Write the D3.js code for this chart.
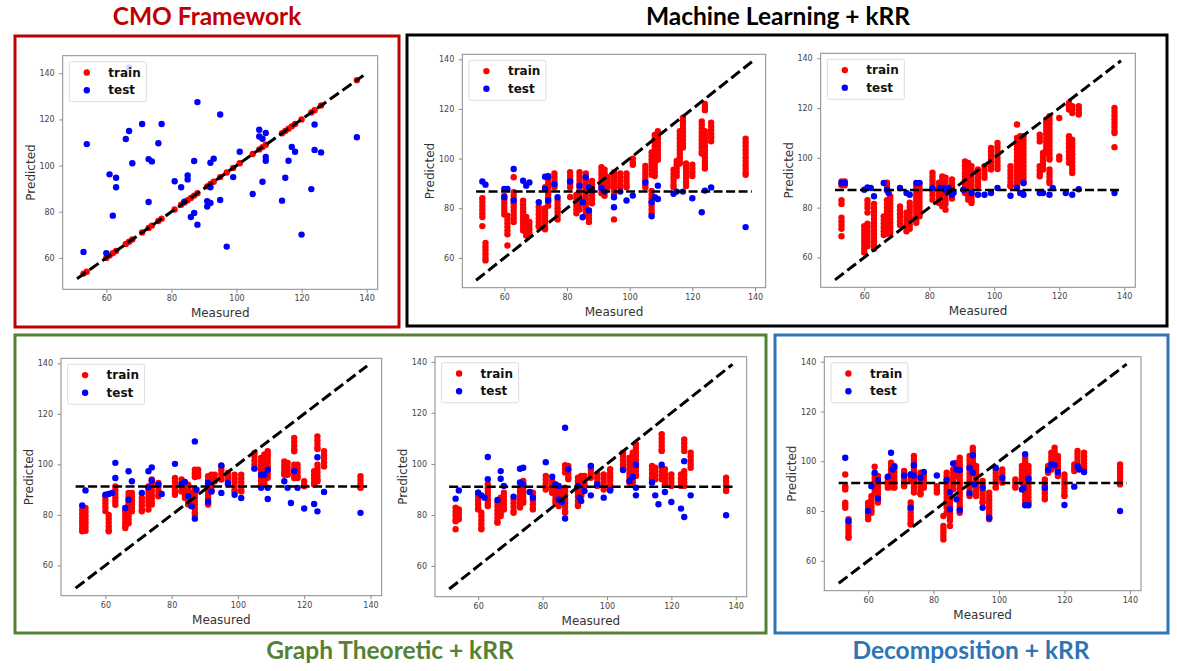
<!DOCTYPE html>
<html>
<head>
<meta charset="utf-8">
<script src="https://cdn.jsdelivr.net/npm/d3@7"></script>
<style>
  body { margin: 0; background: #fff; }
  svg { display: block; }
</style>
</head>
<body>
<svg></svg>
<script>
// ---------- data ----------
// train stacks: [measured, predicted1, predicted2, ...]
// test points: [measured, predicted]
const xTicks = [60, 80, 100, 120, 140];
const yTicks = [60, 80, 100, 120, 140];
const diagonal = [51, 139];

const cmoTrain = [
  [53, 53.2], [54, 54], [60, 60], [61, 61], [62, 62], [63, 63], [66, 66], [67, 67], [68, 68],
  [71, 71], [73, 73], [74, 74], [76, 76], [77, 77], [81, 81], [83, 83], [84, 84], [85, 85],
  [86, 86], [87, 87], [88, 88], [91, 91], [92, 92], [93, 93], [95, 95], [97, 97], [99, 99],
  [101, 101], [105, 105], [107, 107], [108, 108], [109, 109], [114, 114], [115, 115],
  [116, 116], [117, 117], [118, 118], [120, 120], [123, 123], [124, 124], [126, 126], [137, 137]
];
const cmoTest = [
  [53, 62.6], [54, 109.3], [60, 62], [61, 96.2], [62, 78.3], [63, 94.7], [63, 90.6], [66, 111.5],
  [67, 115], [67, 142.5], [68, 101], [71, 118], [73, 84.2], [73, 102.8], [74, 101.8], [76, 109.7],
  [77, 118], [81, 93.2], [83, 90.6], [84, 84.4], [85, 95.7], [85, 94], [86, 77.7], [87, 79.5],
  [87, 102], [88, 74.4], [88, 127.5], [91, 84.6], [91, 82.3], [92, 83.8], [92, 90.6], [92, 101.2],
  [93, 103], [95, 122.1], [95, 85.1], [97, 64.9], [99, 95], [101, 106], [105, 87.7], [107, 115.5],
  [107, 112.6], [108, 111.6], [108, 93], [109, 114.1], [109, 103.7], [109, 102.1], [114, 84.8],
  [115, 94.7], [116, 102.1], [117, 108.1], [118, 106], [120, 70.1], [123, 89.8], [124, 117.8],
  [124, 106.8], [126, 105.7], [137, 112.3]
];

const ml1Train = [
  [53, 84, 82.5, 81, 79.5, 78, 76.5, 72.8],
  [54, 66, 64.5, 63, 61.5, 60, 59],
  [60, 85, 83.5, 82, 80.5, 79, 77.5],
  [61, 77, 75.5, 74, 72.5, 71, 69.5, 65],
  [63, 92.5, 86.5, 85, 83.5, 82, 80.5, 79, 77.5, 76, 74.5],
  [66, 83, 81.5, 80, 78.5, 77, 75.5, 74, 72.5, 71],
  [67, 76.5, 75, 73.5, 72, 70.5, 69],
  [68, 74.5, 73, 71.5, 70],
  [71, 80.5, 79, 77.5, 76, 74.5, 73, 72.5],
  [73, 88.5, 80, 78.5, 77, 75.5, 74, 72.5, 71.5],
  [74, 93, 91.5, 90, 88.5, 87, 85.5, 84, 82.5, 81],
  [76, 94, 92.5, 91, 89.5, 88.5],
  [77, 83, 81.5, 80, 78.5, 77, 75.5],
  [81, 94.5, 93, 91.5, 90, 88.5, 84.5],
  [83, 85.5, 84, 82.5, 81, 79.5, 78],
  [84, 94.5, 93, 91.5, 90, 88.5, 87, 85.5, 84, 82.5, 81, 79.5],
  [86, 94, 92.5, 91, 89.5, 88, 86.5, 85, 83.5, 82, 80.5, 79, 77.5],
  [87, 79, 77.5, 76, 74.5],
  [88, 91, 89.5, 88, 86.5, 85, 83.5, 82],
  [91, 96.5, 95, 93.5, 92, 90.5, 89, 87.5, 86],
  [92, 95.5, 94, 92.5, 91, 89.5, 88, 86.5, 85],
  [93, 92.5, 91, 89.5, 88.5],
  [95, 94.5, 93, 91.5, 90, 88.5, 87, 85.5, 75.5],
  [97, 94, 92.5, 91, 89.5, 88.5],
  [99, 94, 92.5, 91, 89.5, 88.5],
  [101, 100, 98.5, 97.5],
  [105, 97, 95.5, 94, 92.5, 91, 89.5, 88.5],
  [107, 102.5, 101, 99.5, 98, 96.5, 95, 93.5, 87, 85.5, 84, 82.5, 81, 79.5, 78],
  [108, 109.5, 108, 106.5, 105, 103.5, 102, 100.5, 99, 97.5, 96, 94.5, 93],
  [109, 111, 109.5, 108, 106.5, 105, 103.5, 102, 100.5, 99.5],
  [114, 95.5, 94, 92.5, 91, 89.5, 88.5],
  [115, 99, 97.5, 96, 94.5, 93],
  [116, 111, 109.5, 108, 106.5, 105, 103.5, 102, 100.5, 99, 98],
  [117, 116.5, 115, 113.5, 112, 110.5, 109, 107.5, 106, 104.5],
  [118, 98, 96.5, 95, 93.5, 92, 90.5, 89],
  [120, 97.5, 96, 94.5, 93],
  [123, 115, 113.5, 112, 110.5, 109, 107.5, 106, 104.5, 103, 102],
  [124, 122, 120.5, 119.5, 111, 109.5, 108, 106.5, 105, 103.5, 102, 100.5, 99, 97.5, 96],
  [126, 114.5, 113, 111.5, 110, 108.5, 107],
  [137, 108, 106.5, 105, 103.5, 102, 100.5, 99, 97.5, 96, 94.5, 93.5]
];
const ml1Test = [
  [53, 90.8], [54, 89.5], [60, 87.8], [61, 87.8], [60, 84.4], [63, 95.8], [63, 83.1], [66, 91.1],
  [67, 89.1], [68, 90.4], [71, 82.4], [73, 92.7], [74, 92.7], [74, 83.1], [73, 87.8], [76, 89.8],
  [77, 84.4], [81, 90.8], [84, 89.1], [85, 82.4], [85, 76.4], [86, 92.5], [87, 79.1], [87, 88.4],
  [88, 87.1], [91, 88.2], [92, 86.7], [95, 84.4], [95, 80.4], [97, 86.7], [99, 83.1], [101, 85.1],
  [105, 90.4], [107, 82.4], [107, 76.8], [108, 84.4], [109, 89.1], [109, 83.7], [114, 85.8],
  [115, 86.7], [117, 86.7], [120, 84], [123, 78.4], [124, 87.1], [126, 88.4], [137, 72.4]
];

const ml2Train = [
  [53, 90.5, 89, 83, 81.5, 76, 74.5, 73, 71.5, 68.5],
  [54, 90.5, 89],
  [60, 72.5, 71, 69.5, 68, 66.5, 65, 63.5, 62],
  [61, 83, 81.5, 80, 78, 73.5, 72, 70.5, 69, 67.5, 66, 64.5],
  [63, 81.5, 80, 78.5, 77, 75.5, 74, 72.5, 71, 69.5, 68, 66.5, 65, 63.5],
  [66, 76.5, 75, 73.5, 72, 70.5, 69],
  [67, 90, 88.5, 87, 83, 81.5, 80, 78.5, 77, 75.5, 74, 72.5, 71, 69.5],
  [68, 84.5, 83, 81.5, 80, 78.5, 77, 75.5, 74, 72.5, 71, 69.8],
  [71, 80.5, 79, 77.5, 76, 74.5, 73],
  [73, 78, 76.5, 75, 73.5, 72, 70.5],
  [74, 82, 80.5, 79, 77.5, 76, 74.5, 73, 71.5],
  [76, 88.5, 87, 85.5, 84, 82.5, 81, 79.5, 78, 76.5, 75, 73.9],
  [77, 89.5, 88, 86.5, 85, 83.5, 82, 80.5, 79, 77.5, 76.5],
  [81, 94, 92.5, 91, 89.5, 88, 86.5, 85, 83.2],
  [83, 90, 88.5, 87, 85.5, 84, 82.5, 81.9],
  [84, 92.5, 91, 89.5, 88, 86.5, 85, 83.5, 82, 80.6],
  [85, 92, 90.5, 89, 87.5, 86, 84.5, 83, 81.5, 79.2],
  [87, 91.3, 89.8, 88.3, 86.8, 85.3, 83.7],
  [91, 98.6, 97, 95.5, 94, 92.5, 91, 89.5, 88, 86.5, 85.9],
  [92, 98, 96.5, 95, 93.5, 92, 90.5, 89, 87.5, 86, 84.5, 83.2],
  [93, 96.6, 95, 93.5, 92, 90.5, 89, 87.5, 86, 84.5, 83, 81.9],
  [95, 95.3, 93.8, 92.3, 90.8, 89.3, 88.6],
  [97, 96.6, 95, 93.5, 92],
  [99, 104, 102.5, 101, 99.5, 98, 96.5, 95.3],
  [101, 106, 104.5, 103, 101.5, 100, 98.5, 97, 95.5],
  [105, 96.6, 95, 93.5, 92, 90.5, 89, 88.6],
  [107, 113.4, 108, 106.5, 105, 103.5, 102, 100.5, 99, 97.5, 96, 94.5, 93, 91.5, 90, 88.6],
  [108, 108.7, 107.2, 105.7, 104.2, 102.7, 101.2, 99.7, 98.2, 96.7, 95.2, 93.7, 92.2, 91.3],
  [109, 108.7, 107.2, 105.7, 104.2, 102.7, 101.2, 99.7, 98.2, 96.7, 95.2, 93.7, 92.2, 90.7, 89.9],
  [114, 109.3, 108, 106.6, 96.6, 95, 93.5, 92.6],
  [115, 102, 100.5, 99, 97.5, 96, 95.3],
  [116, 115.4, 114, 112.5, 111, 109.5, 108, 106.5, 105, 103.5, 102],
  [117, 116.7, 115.2, 113.7, 112.2, 110.7, 109.2, 107.7, 106.2, 104.7, 103.2, 101.7, 100.2, 99.3, 95.3, 93.8, 92.3, 90.8, 89.9],
  [120, 116, 100.6, 99.3],
  [123, 122.1, 120.7, 119.4, 108.7, 107.2, 105.7, 104.2, 102.7, 101.2, 99.7, 98],
  [124, 120.7, 119.4, 118, 107.3, 105.8, 104.3, 102.8, 101.3, 99.8, 98.3, 96.8, 95.3, 93.9],
  [126, 120.7, 119.4, 118, 117.4],
  [137, 120, 118.5, 117, 115.5, 114, 112.5, 111, 110, 104.3]
];
const ml2Test = [
  [53, 89.9], [54, 89.9], [60, 87.2], [61, 88.1], [62, 87.9], [63, 84.6], [66, 89.9], [67, 87.2],
  [67.5, 85.9], [71, 87.9], [73, 85.9], [74, 85.2], [76, 89.9], [77, 89.9], [81, 87.9], [83.5, 87.9],
  [84.5, 87.9], [85, 87.2], [86, 87.9], [87, 85.2], [87.5, 86], [90.5, 87.2], [93, 85.9], [95, 85.2],
  [97, 85.2], [99, 85.9], [101, 87.9], [105, 84.8], [107, 87.9], [108, 85.9], [108.6, 85.9],
  [109, 89.9], [109, 85.2], [114, 85.9], [115, 85.9], [117, 85.2], [118, 87.9], [122, 85.9],
  [124, 85.2], [126, 87.4], [137, 85.9]
];

const gt1Train = [
  [53, 82, 80.5, 79, 77.5, 76, 74.5, 73.5],
  [54, 82.7, 81.2, 79.7, 78.2, 76.7, 75.2, 73.7],
  [60, 87.4, 86, 84.5, 83, 81.5],
  [61, 80, 78.5, 77, 75.5, 74, 73.5],
  [63, 91.3, 89.8, 88.3, 86.8, 85.3, 84],
  [66, 81.4, 80, 78.5, 77, 75.5, 74.8],
  [67, 88.7, 87.2, 85.7, 84.2, 82.7, 81.2, 79.7, 78.2, 76.7],
  [68, 88.7, 87.2, 85.7, 84.2, 82.7, 81.4],
  [71, 86.7, 85.2, 83.7, 82.2, 81.4],
  [73, 91.3, 89.8, 88.3, 86.8, 85.3, 83.8, 82.1],
  [74, 94, 92.5, 91, 89.5, 88, 86.5, 85, 84.1],
  [76, 92.6, 91.1, 89.6, 88, 87.4],
  [81, 94.6, 93.1, 91.6, 90.1, 88.6, 88],
  [83, 94, 92.5, 91, 89.5, 89.3],
  [84, 92.6, 91.1, 89.6, 88.1, 86.7],
  [85, 92, 90.5, 89, 87.5, 86, 84.5, 84.1],
  [86, 88.7, 87.2, 85.7, 84.2],
  [87, 97.9, 96.4, 95, 90, 88.5, 87, 85.5, 84, 82.5, 81, 80.1],
  [88, 97.9, 96.4, 95.3],
  [91, 95.3, 93.8, 92.3, 90.8, 89.3, 87.8, 86.3, 84.8, 84.1],
  [92, 95.9, 94.4, 92.9, 91.4, 89.9, 89.3],
  [93, 95.9, 94.4, 93.3],
  [95, 99.2, 97.7, 96.2, 94.7, 94],
  [97, 96.6, 95.1, 93.6, 92.1],
  [99, 95.9, 94.4, 92.9, 91.4, 89.9, 89.3],
  [101, 95.9, 94.4, 92.9, 91.4, 89.9, 89.3],
  [105, 104.5, 103, 101.5, 100, 98.6],
  [107, 102.5, 101, 99.5, 98, 96.5, 95, 93.5, 92],
  [108, 103.9, 102.4, 100.9, 99.4, 97.9, 96.4, 94.9, 93.4, 92],
  [109, 105.2, 103.7, 102.2, 100.7, 99.2, 97.7, 96.2, 94.7],
  [114, 101.2, 99.7, 98.2, 96.7, 95.9],
  [115, 100.6, 99.1, 97.6, 96.1, 95.9],
  [117, 110.5, 109, 107.5, 106, 105.2, 99.9, 98.4, 96.9, 95.4, 94.6],
  [118, 99.9, 98.4, 96.9, 95.4, 94.6],
  [120, 93.3, 92, 91.3],
  [123, 97.3, 95.8, 94.3, 92.8, 92],
  [124, 111.1, 109.6, 108.1, 106.6, 106.1, 99.9, 98.4, 96.9, 95.4, 94, 93.3],
  [126, 105.2, 103.7, 102.2, 100.7, 99.2],
  [137, 95.3, 93.8, 92.3, 90.8, 90.7]
];
const gt1Test = [
  [53, 83.7], [54, 89.7], [60, 88], [61, 88.3], [62, 88.7], [63, 100.6], [63, 94.6], [66, 82.7],
  [67, 97.3], [68, 93.3], [67, 86], [71, 88.7], [73, 97.3], [74, 98.8], [73, 90.9], [74, 93.6],
  [76, 92], [77, 88.3], [81, 100.2], [83, 92.2], [84, 93], [85, 87.4], [86, 83.4], [87, 109.1],
  [87, 78.5], [87.5, 90], [91, 92.6], [91, 85.2], [92, 89.3], [95, 99.6], [95, 88.7], [97, 92.6],
  [99, 88], [101, 86.7], [105, 98.3], [107, 95.9], [108, 95.9], [109, 97.9], [107, 90.7],
  [109, 90.7], [109, 86.3], [114, 93.3], [115, 90.7], [116, 84.7], [117, 97.3], [118, 90.7],
  [120, 82.5], [123, 84.3], [124, 81.4], [124, 102.8], [126, 89.1], [137, 80.8]
];

const gt2Train = [
  [53, 82.9, 81.4, 79.9, 78.4, 77.6, 74.4],
  [54, 82.2, 80.7, 79.2, 78.3],
  [60, 88.7, 87.2, 85.7, 84.2, 82.7, 82.2],
  [61, 80.9, 79.4, 77.9, 76.4, 74.9, 74.4],
  [63, 92, 90.5, 89, 87.5, 86, 84.5, 83.5],
  [66, 84.8, 83.3, 81.8, 80.3, 78.8, 77.3, 77],
  [67, 86.8, 85.3, 83.8, 82.3, 80.8, 79.6],
  [68, 88.7, 87.2, 85.7, 84.2, 82.7, 82.2],
  [71, 86.1, 84.6, 83.1, 81.6, 80.9],
  [73, 90.7, 89.2, 87.7, 86.2, 84.7, 83.2, 82.9],
  [74, 93.3, 91.8, 90.3, 88.8, 87.3, 85.8, 84.8],
  [77, 88.7, 87.2, 85.7, 84.2, 82.7, 82.2],
  [81, 95.3, 93.8, 92.3, 90.8, 90],
  [83, 93.3, 91.8, 90.3, 88.8, 88.7],
  [84, 92, 90.5, 89, 87.5, 86, 84.8],
  [85, 90.7, 89.2, 87.7, 86.2, 84.7, 83.5],
  [86, 89.4, 87.9, 86.4, 84.8],
  [87, 99.5, 98, 96.6, 90.7, 89.2, 87.7, 86.2, 84.7, 83.2, 81.7, 80.9],
  [88, 99.2, 97.7, 96.2, 94.7, 94],
  [91, 94.6, 93.1, 91.6, 90.1, 88.6, 87.1, 85.6, 84.1, 83.5],
  [92, 95.3, 93.8, 92.3, 90.8, 89.3, 87.8, 87.4],
  [93, 95.3, 93.8, 92.3, 91.4],
  [95, 99.2, 97.7, 96.2, 94.6],
  [97, 95.9, 94.4, 92.9, 91.4],
  [99, 95.9, 94.4, 92.9, 91.4, 90],
  [101, 97.9, 96.4, 94.9, 93.4, 91.9, 90.4, 90],
  [105, 104.4, 102.9, 101.4, 99.9, 98.4, 97.9],
  [107, 102.4, 100.9, 99.4, 97.9, 96.4, 94.9, 93.4, 92.7],
  [108, 104.4, 102.9, 101.4, 99.9, 98.4, 96.9, 95.4, 93.9, 92.7],
  [109, 107.7, 106.2, 104.7, 103.2, 101.7, 100.2, 98.7, 97.2, 95.7, 95.3],
  [114, 99.2, 97.7, 96.2, 94.7, 94],
  [115, 98.5, 97, 95.5, 94],
  [117, 111.6, 110.1, 108.6, 107.1, 105.6, 105.1, 98.5, 97, 95.5, 94],
  [118, 97.9, 96.4, 94.9, 93.4, 92],
  [120, 95.9, 94.4, 92.9, 91.4],
  [123, 95.9, 94.4, 92.9, 91.4],
  [124, 109.6, 108.1, 106.6, 105.1, 97.2, 95.7, 94.2, 92.7, 91.4],
  [126, 104.4, 102.9, 101.4, 99.9, 98.5],
  [137, 94.6, 93.1, 91.6, 90.1, 89.4]
];
const gt2Test = [
  [53, 86.4], [54, 89.6], [60, 88.7], [61, 87.7], [62, 86.8], [63, 102.7], [63, 94], [66, 85.9],
  [67, 97.2], [67, 94.2], [68, 91.4], [71, 87.2], [73, 98.1], [74, 98.5], [73, 92.7], [74, 92],
  [76, 89], [77, 86.8], [81, 100.7], [83, 95], [84, 92], [85, 91.4], [85, 86.1], [86, 85.1],
  [87, 114.2], [87, 78.6], [88, 97.9], [91, 91.4], [91.5, 86.8], [92, 85.5], [93, 89.4], [95, 99.2],
  [95, 87.7], [97, 92], [99, 86.8], [101, 89.6], [105, 97.6], [107, 93.3], [108, 95], [109, 99.7],
  [109, 90.7], [109, 87.7], [114, 92.7], [115, 87.7], [116, 84.2], [117, 99.7], [118, 89],
  [120, 85.1], [123, 82.5], [124, 79.2], [124, 101.1], [126, 87.7], [137, 79.9]
];

const decTrain = [
  [53, 94.7, 90, 89.4, 88.7, 83.4, 82.4, 81.3],
  [54, 76.7, 75.3, 73.9, 72.5, 71.1, 69.7, 69.3],
  [60, 83.4, 82, 80.6, 79.2, 77.8, 76.7],
  [61, 86, 84.6, 83.2, 81.8, 80.4, 79.3],
  [62, 97.8, 94.7, 93.3, 91.9, 90.5, 89.1, 87.7, 86.7],
  [63, 94.1, 92.7, 91.3, 89.9, 88.5, 87.1, 85.7, 84.3, 83.4],
  [66, 93.4, 92, 90.7, 89.4],
  [67, 99.4, 98, 96.6, 95.2, 93.8, 92.4, 91, 89.6],
  [68, 98.1, 96.7, 95.3, 93.9, 92.5, 91.1, 89.7, 89.4],
  [71, 96.1, 94.7, 93.3, 91.9, 90.5, 90],
  [73, 94.7, 93.3, 92.1, 83.5, 82.1, 80.7, 79.3, 77.9, 76.5, 75.1, 74.6],
  [74, 102.1, 100.7, 99.3, 97.9, 96.5, 95.1, 93.7, 92.3, 90.9, 89.5, 88.1, 87.4],
  [76, 95.4, 94, 92.6, 91.2, 89.8, 88.4, 87, 86.7],
  [77, 95.4, 94, 92.6, 91.2, 89.8, 89.4],
  [81, 90, 88.7, 87.4],
  [83, 78, 74, 72.6, 71.3, 70, 68.6],
  [84, 95.4, 94, 92.6, 91.2, 89.8, 88.4, 87, 85.6, 84.2, 82.8, 81.4, 79.3],
  [85, 86, 84.6, 83.2, 81.8, 80.4, 79, 77.6, 76.2, 74],
  [86, 96.7, 95.3, 93.9, 92.5, 91.1, 89.7, 88.7],
  [87, 99.4, 98, 96.6, 95.2, 94.1],
  [88, 101.4, 100, 98.6, 97.2, 95.8, 94.4, 93, 91.6, 90.2, 88.8, 87.4, 86, 84.6, 83.2, 81.8, 80.4, 79.3],
  [91, 102.1, 100.7, 99.3, 97.9, 96.5, 95.1, 93.7, 92.3, 90.9, 89.5, 88.1, 86.7, 86],
  [92, 105.4, 104, 102.6, 101.2, 99.8, 98.4, 97, 96.1],
  [93, 98.1, 96.7, 95.3, 93.9, 92.5, 91.1, 89.7, 88.3, 86.9, 86],
  [95, 92.1, 90.7, 89.3, 87.9, 86.5, 85.1, 83.7, 83.4],
  [97, 87.4, 86, 84.6, 83.2, 81.8, 80.4, 79, 77.6, 76.7],
  [99, 96.7, 95.3, 93.9, 92.5, 91.1, 89.7, 89.4],
  [101, 96.7, 95.3, 93.9, 92.5, 91.4],
  [105, 92.7, 91.4, 90.1, 89.4],
  [107, 98.1, 96.7, 95.3, 93.9, 92.5, 91.4],
  [108, 101.4, 100, 98.6, 97.2, 95.8, 94.4, 93, 91.6, 90.2, 88.8, 87.4, 86, 84.6, 83.4],
  [109, 98.1, 96.7, 95.3, 93.9, 92.5, 91.1, 89.7, 88.3, 86.9, 85.5, 84.1, 83.4],
  [114, 92.7, 91.3, 89.9, 88.5, 87.1, 85.7, 84.7],
  [115, 98.1, 96.7, 95.4],
  [116, 103.4, 102, 100.6, 99.2, 97.8, 96.7],
  [117, 105.4, 104, 102.6, 101.2, 99.8, 98.4, 98.1],
  [118, 102.1, 100.7, 99.3, 97.9, 96.5, 95.1, 94.1],
  [120, 94.7, 93.3, 91.9, 90.5, 89.1, 87.7, 86.3, 86],
  [123, 98.7, 97.3, 96.1],
  [124, 104.1, 102.7, 101.3, 99.9, 98.5, 98.1],
  [126, 103.4, 102, 100.6, 99.2, 97.8, 96.7],
  [137, 98.7, 97.3, 95.9, 94.5, 93.1, 91.7, 90.7]
];
const decTest = [
  [53, 101.4], [54, 76], [60, 80], [61, 90], [62, 95.4], [63, 92.5], [63, 85], [66, 93.8],
  [67, 103.4], [67.5, 96.7], [68, 97.8], [71, 94.3], [73, 94.7], [74, 94.3], [74, 98.4], [73, 81.3],
  [76, 93.4], [77, 95.7], [81, 94.3], [84, 92.5], [85, 87.6], [85, 80.7], [86, 99.1], [87, 96.7],
  [88, 96.5], [87, 84.7], [88, 80.4], [91, 97.4], [92, 102.4], [92, 95.4], [91, 87.1], [92.5, 90.7],
  [95, 89.4], [95, 81.3], [97, 77.3], [99, 97.4], [101, 93.4], [107, 88.7], [107.5, 89.4],
  [108, 102.8], [108, 82.3], [109, 82.3], [109, 93], [114, 89.4], [115, 96.5], [116, 98.7],
  [117, 98.4], [118, 95.7], [120, 82.4], [123, 89.8], [124, 98.1], [124.5, 96.7], [126, 95.7],
  [137, 80]
];

// mean-prediction (horizontal) line per panel
const meanLines = [null, 86.7, 87.1, 91.2, 91.1, 91.3];

// ---------- layout ----------
const W = 1177, H = 671;
const svg = d3.select('svg').attr('width', W).attr('height', H);

const groups = [
  {title: 'CMO Framework', color: '#c00000', box: [15, 36, 384, 291], tx: 207, ty: 25},
  {title: 'Machine Learning + kRR', color: '#000000', box: [407, 35, 760, 291], tx: 778, ty: 25},
  {title: 'Graph Theoretic + kRR', color: '#548235', box: [15, 335, 751, 298], tx: 390, ty: 659},
  {title: 'Decomposition + kRR', color: '#2e75b6', box: [775, 335, 393, 298], tx: 971, ty: 659}
];

const panels = [
  {train: cmoTrain, test: cmoTest, l: 62.7, t: 55.7, w: 315, h: 233.6, yDom: [46.4, 147.6]},
  {train: ml1Train, test: ml1Test, l: 462.3, t: 54.3, w: 303.4, h: 233.4, yDom: [48, 142]},
  {train: ml2Train, test: ml2Test, l: 820.7, t: 53.3, w: 314.6, h: 234, yDom: [48, 142]},
  {train: gt1Train, test: gt1Test, l: 61, t: 358.3, w: 320.7, h: 237.4, yDom: [48, 142]},
  {train: gt2Train, test: gt2Test, l: 435, t: 356.7, w: 311.7, h: 240, yDom: [48, 142]},
  {train: decTrain, test: decTest, l: 824.3, t: 356.7, w: 316.7, h: 234, yDom: [48, 142]}
];
const xDom = [46.6, 143.4];
const dotR = 3.2;

// coloured frames + titles
groups.forEach(g => {
  svg.append('rect')
    .attr('x', g.box[0]).attr('y', g.box[1])
    .attr('width', g.box[2]).attr('height', g.box[3])
    .attr('fill', 'none')
    .attr('stroke', g.color)
    .attr('stroke-width', 3);
  svg.append('text')
    .attr('x', g.tx).attr('y', g.ty)
    .attr('text-anchor', 'middle')
    .style('font-family', 'Lato, "Open Sans", sans-serif')
    .style('font-weight', 700)
    .style('font-size', '24.5px')
    .style('fill', g.color)
    .text(g.title);
});

const flatStacks = stacks => stacks.flatMap(s => s.slice(1).map(y => ({x: s[0], y: y})));

panels.forEach((p, i) => {
  const g = svg.append('g').attr('transform', `translate(${p.l},${p.t})`);
  const x = d3.scaleLinear().domain(xDom).range([0, p.w]);
  const y = d3.scaleLinear().domain(p.yDom).range([p.h, 0]);

  // clip so markers stay inside the axes
  const clipId = 'clip' + i;
  g.append('clipPath').attr('id', clipId)
    .append('rect').attr('width', p.w).attr('height', p.h);
  const plot = g.append('g').attr('clip-path', `url(#${clipId})`);

  // axes
  const xAxis = g.append('g').attr('transform', `translate(0,${p.h})`)
    .call(d3.axisBottom(x).tickValues(xTicks).tickSize(3.5).tickPadding(3));
  const yAxis = g.append('g')
    .call(d3.axisLeft(y).tickValues(yTicks).tickSize(3.5).tickPadding(4.5));
  [xAxis, yAxis].forEach(a => {
    a.select('.domain').remove();
    a.selectAll('line').attr('stroke', '#8a8a8a');
    a.selectAll('text')
      .style('font-family', '"DejaVu Sans", sans-serif')
      .style('font-size', '8px')
      .style('fill', '#444');
  });

  // points
  plot.selectAll('circle.train')
    .data(flatStacks(p.train))
    .join('circle')
    .attr('class', 'train')
    .attr('cx', d => x(d.x))
    .attr('cy', d => y(d.y))
    .attr('r', dotR)
    .attr('fill', '#ff0000');

  plot.selectAll('circle.test')
    .data(p.test.map(d => ({x: d[0], y: d[1]})))
    .join('circle')
    .attr('class', 'test')
    .attr('cx', d => x(d.x))
    .attr('cy', d => y(d.y))
    .attr('r', dotR)
    .attr('fill', '#0000ff');

  // perfect-fit diagonal
  plot.append('line')
    .attr('x1', x(diagonal[0])).attr('y1', y(diagonal[0]))
    .attr('x2', x(diagonal[1])).attr('y2', y(diagonal[1]))
    .attr('stroke', '#000')
    .attr('stroke-width', 3)
    .attr('stroke-dasharray', '11,4.5');

  // mean prediction line
  if (meanLines[i] !== null) {
    plot.append('line')
      .attr('x1', x(diagonal[0])).attr('x2', x(diagonal[1]))
      .attr('y1', y(meanLines[i])).attr('y2', y(meanLines[i]))
      .attr('stroke', '#000')
      .attr('stroke-width', 2.5)
      .attr('stroke-dasharray', '9,3.5');
  }

  // axes frame
  g.append('rect')
    .attr('width', p.w).attr('height', p.h)
    .attr('fill', 'none')
    .attr('stroke', '#8a8a8a')
    .attr('stroke-width', 1);

  // axis labels
  g.append('text')
    .attr('x', p.w / 2).attr('y', p.h + 28)
    .attr('text-anchor', 'middle')
    .style('font-family', '"DejaVu Sans", sans-serif')
    .style('font-size', '12px')
    .style('fill', '#333')
    .text('Measured');
  g.append('text')
    .attr('transform', `translate(-28,${p.h / 2}) rotate(-90)`)
    .attr('text-anchor', 'middle')
    .style('font-family', '"DejaVu Sans", sans-serif')
    .style('font-size', '12px')
    .style('fill', '#333')
    .text('Predicted');

  // legend
  const lg = g.append('g').attr('transform', 'translate(6.6,6)');
  lg.append('rect')
    .attr('width', 77).attr('height', 40).attr('rx', 2)
    .attr('fill', 'rgba(255,255,255,0.85)')
    .attr('stroke', '#dcdcdc');
  [['train', '#ff0000'], ['test', '#0000ff']].forEach((e, k) => {
    lg.append('circle')
      .attr('cx', 17.5).attr('cy', 10.8 + k * 17.7)
      .attr('r', dotR).attr('fill', e[1]);
    lg.append('text')
      .attr('x', 39).attr('y', 15 + k * 17.7)
      .style('font-family', '"DejaVu Sans", sans-serif')
      .style('font-weight', 700)
      .style('font-size', '12px')
      .style('fill', '#111')
      .text(e[0]);
  });
});
</script>
</body>
</html>
